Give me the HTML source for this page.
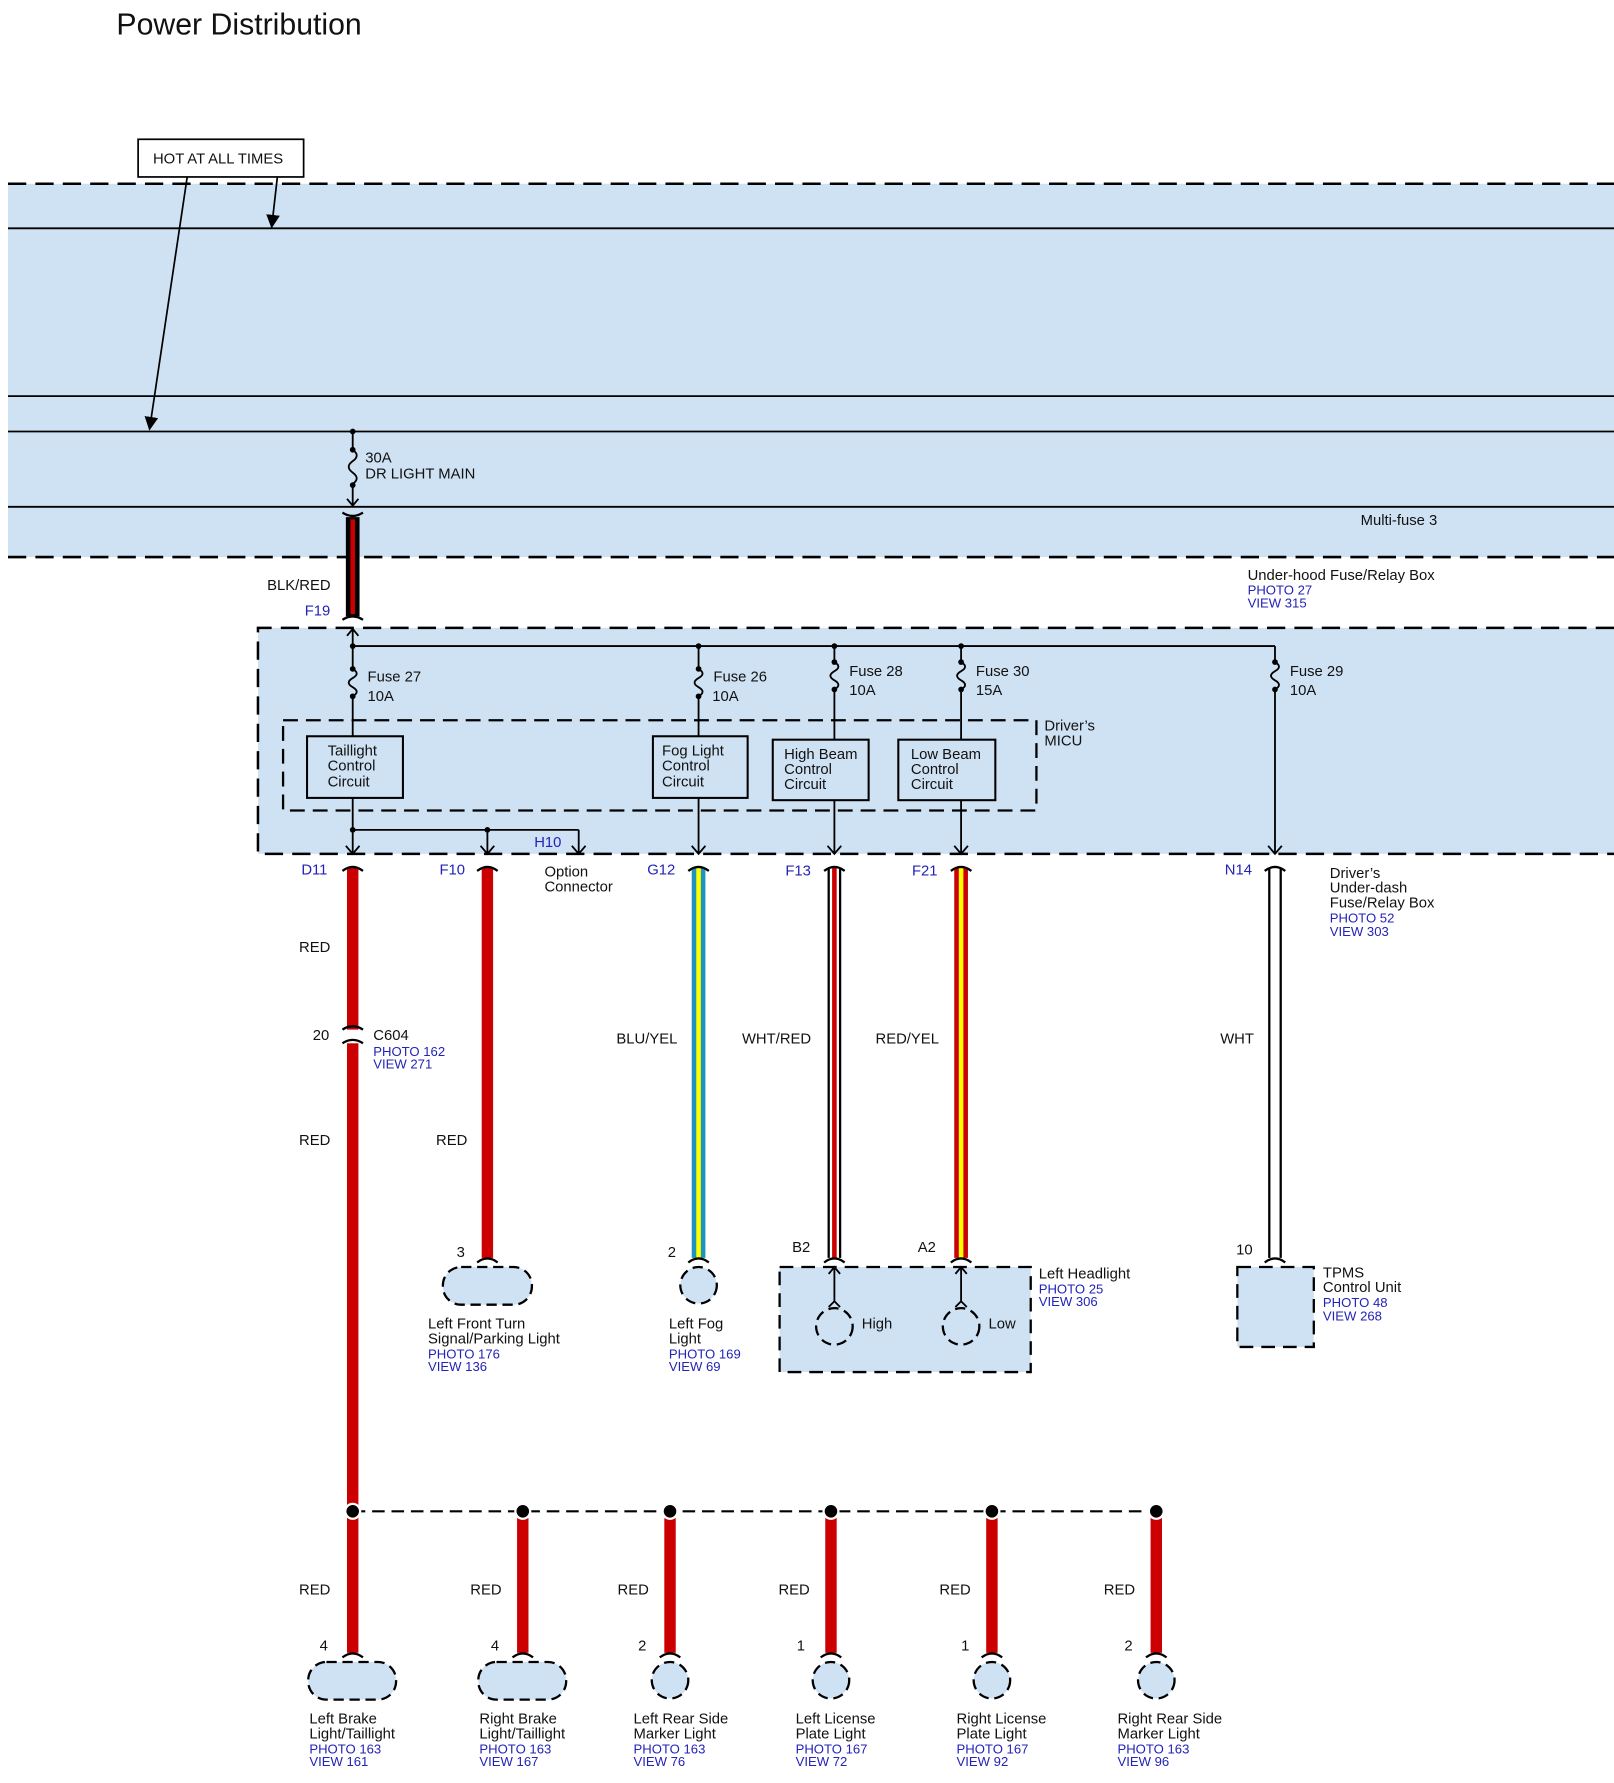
<!DOCTYPE html>
<html><head><meta charset="utf-8"><style>
html,body{margin:0;padding:0;background:#fff}
svg{display:block}
text{font-family:"Liberation Sans",Arial,sans-serif;font-size:13px;fill:#111}
.b{fill:#2323b8;font-size:11.5px}
.lb{fill:#2323b8;font-size:13px}
</style></head><body>
<svg width="1614" height="1783" viewBox="0 0 1414 1562" xmlns="http://www.w3.org/2000/svg">
<defs>
<marker id="ar" viewBox="0 0 10 10" refX="9" refY="5" markerWidth="8" markerHeight="8" orient="auto"><path d="M0,0 L10,5 L0,10 z" fill="#000"/></marker>
</defs>
<text x="102" y="30" style="font-size:26.5px">Power Distribution</text>

<rect x="7" y="161" width="1407" height="327" fill="#cfe2f4"/>
<g stroke="#000" stroke-width="2.2" fill="none">
<line x1="7" y1="161" x2="1414" y2="161" stroke-dasharray="16,8"/>
<line x1="7" y1="488" x2="1414" y2="488" stroke-dasharray="16,8"/>
</g>
<g stroke="#000" stroke-width="1.6">
<line x1="7" y1="200" x2="1414" y2="200"/>
<line x1="7" y1="347" x2="1414" y2="347"/>
<line x1="7" y1="378" x2="1414" y2="378"/>
<line x1="7" y1="444" x2="1414" y2="444"/>
</g>
<rect x="121" y="122" width="145" height="33" fill="#fff" stroke="#000" stroke-width="1.5"/>
<text x="134" y="143">HOT AT ALL TIMES</text>
<line x1="164" y1="155" x2="131" y2="376" stroke="#000" stroke-width="1.5" marker-end="url(#ar)"/>
<line x1="243" y1="155" x2="238" y2="199" stroke="#000" stroke-width="1.5" marker-end="url(#ar)"/>

<g stroke="#000" stroke-width="1.6" fill="none">
<line x1="309" y1="378" x2="309" y2="394"/>
<path d="M309 394 q7 5 0 10 q-7 5 0 10 q7 5 0 10"/>
<line x1="309" y1="424" x2="309" y2="443"/>
<path d="M304 437 L309 443 L314 437"/>
</g>
<circle cx="309" cy="378" r="2.5"/><circle cx="309" cy="394" r="2.5"/><circle cx="309" cy="425" r="2.5"/>
<text x="320" y="405">30A</text><text x="320" y="419">DR LIGHT MAIN</text>
<text x="1192" y="460">Multi-fuse 3</text>
<text x="1093" y="508">Under-hood Fuse/Relay Box</text>
<text class="b" x="1093" y="521">PHOTO 27</text><text class="b" x="1093" y="532">VIEW 315</text>

<rect x="303" y="453" width="12" height="87" fill="#000"/>
<rect x="307" y="455" width="4" height="83" fill="#c00"/>
<path d="M300 449 Q309 455 318 449" stroke="#000" stroke-width="2" fill="none"/>
<path d="M300 543 Q309 537 318 543" stroke="#000" stroke-width="2" fill="none"/>
<text x="234" y="517">BLK/RED</text>
<text class="lb" x="267" y="539">F19</text>

<rect x="226" y="550" width="1188" height="198" fill="#cfe2f4"/>
<path d="M1414 550 H226 V748 H1414" stroke="#000" stroke-width="2.2" fill="none" stroke-dasharray="16,8"/>
<path d="M248 631 H908 V710 H248 Z" stroke="#000" stroke-width="2" fill="none" stroke-dasharray="13,7"/>
<text x="915" y="640">Driver’s</text><text x="915" y="653">MICU</text>

<g stroke="#000" stroke-width="1.6" fill="none">
<line x1="309" y1="552" x2="309" y2="586"/><line x1="309" y1="610" x2="309" y2="645"/>
<path d="M304 557 L309 551 L314 557"/>
<line x1="309" y1="566" x2="1117" y2="566"/>
<path d="M309 586 q7 4 0 8 q-7 4 0 8 q7 4 0 8"/>
<line x1="612" y1="566" x2="612" y2="586"/><line x1="612" y1="610" x2="612" y2="645"/>
<path d="M612 586 q7 4 0 8 q-7 4 0 8 q7 4 0 8"/>
<line x1="731" y1="566" x2="731" y2="580"/><line x1="731" y1="604" x2="731" y2="648"/>
<path d="M731 580 q7 4 0 8 q-7 4 0 8 q7 4 0 8"/>
<line x1="842" y1="566" x2="842" y2="580"/><line x1="842" y1="604" x2="842" y2="648"/>
<path d="M842 580 q7 4 0 8 q-7 4 0 8 q7 4 0 8"/>
<line x1="1117" y1="566" x2="1117" y2="580"/><line x1="1117" y1="604" x2="1117" y2="747"/>
<path d="M1117 580 q7 4 0 8 q-7 4 0 8 q7 4 0 8"/>
</g>
<g fill="#000">
<circle cx="309" cy="566" r="2.5"/><circle cx="612" cy="566" r="2.5"/><circle cx="731" cy="566" r="2.5"/><circle cx="842" cy="566" r="2.5"/>
<circle cx="309" cy="586" r="2.5"/><circle cx="309" cy="610" r="2.5"/>
<circle cx="612" cy="586" r="2.5"/><circle cx="612" cy="610" r="2.5"/>
<circle cx="731" cy="580" r="2.5"/><circle cx="731" cy="604" r="2.5"/>
<circle cx="842" cy="580" r="2.5"/><circle cx="842" cy="604" r="2.5"/>
<circle cx="1117" cy="580" r="2.5"/><circle cx="1117" cy="604" r="2.5"/>
</g>
<text x="322" y="597">Fuse 27</text><text x="322" y="614">10A</text>
<text x="625" y="597">Fuse 26</text><text x="624" y="614">10A</text>
<text x="744" y="592">Fuse 28</text><text x="744" y="609">10A</text>
<text x="855" y="592">Fuse 30</text><text x="855" y="609">15A</text>
<text x="1130" y="592">Fuse 29</text><text x="1130" y="609">10A</text>

<g fill="#cfe2f4" stroke="#000" stroke-width="1.8">
<rect x="269" y="645" width="84" height="54"/>
<rect x="572" y="645" width="83" height="54"/>
<rect x="677" y="648" width="84" height="53"/>
<rect x="787" y="648" width="85" height="53"/>
</g>
<text x="287" y="662">Taillight</text><text x="287" y="675">Control</text><text x="287" y="689">Circuit</text>
<text x="580" y="662">Fog Light</text><text x="580" y="675">Control</text><text x="580" y="689">Circuit</text>
<text x="687" y="665">High Beam</text><text x="687" y="678">Control</text><text x="687" y="691">Circuit</text>
<text x="798" y="665">Low Beam</text><text x="798" y="678">Control</text><text x="798" y="691">Circuit</text>

<g stroke="#000" stroke-width="1.6" fill="none">
<line x1="309" y1="699" x2="309" y2="748"/>
<line x1="309" y1="727" x2="507" y2="727"/>
<line x1="427" y1="727" x2="427" y2="748"/>
<line x1="507" y1="727" x2="507" y2="747"/>
<line x1="612" y1="699" x2="612" y2="748"/>
<line x1="731" y1="701" x2="731" y2="748"/>
<line x1="842" y1="701" x2="842" y2="748"/>
<path d="M303 741 L309 748 L315 741 M421 741 L427 748 L433 741 M501 741 L507 748 L513 741 M606 741 L612 748 L618 741 M725 741 L731 748 L737 741 M836 741 L842 748 L848 741 M1111 741 L1117 748 L1123 741"/>
</g>
<circle cx="309" cy="727" r="2.5"/><circle cx="427" cy="727" r="2.5"/>
<text class="lb" x="468" y="742">H10</text>
<text x="477" y="768">Option</text><text x="477" y="781">Connector</text>

<text class="lb" x="264" y="766">D11</text>
<text class="lb" x="385" y="766">F10</text>
<text class="lb" x="567" y="766">G12</text>
<text class="lb" x="688" y="767">F13</text>
<text class="lb" x="799" y="767">F21</text>
<text class="lb" x="1073" y="766">N14</text>
<text x="1165" y="769">Driver’s</text><text x="1165" y="782">Under-dash</text><text x="1165" y="795">Fuse/Relay Box</text>
<text class="b" x="1165" y="808">PHOTO 52</text><text class="b" x="1165" y="820">VIEW 303</text>

<rect x="304" y="760" width="10" height="142" fill="#c00"/>
<rect x="304" y="914" width="10" height="534" fill="#c00"/>
<rect x="422" y="760" width="10" height="342" fill="#c00"/>
<rect x="606" y="760" width="12" height="342" fill="#1e93c0"/>
<rect x="610" y="760" width="4" height="342" fill="#ff0"/>
<rect x="725" y="760" width="12" height="342" fill="#000"/>
<rect x="727" y="760" width="8" height="342" fill="#fff"/>
<rect x="729" y="760" width="4" height="342" fill="#c00"/>
<rect x="836" y="760" width="12" height="342" fill="#c00"/>
<rect x="840" y="760" width="4" height="342" fill="#ff0"/>
<rect x="1111" y="760" width="12" height="342" fill="#000"/>
<rect x="1113" y="760" width="8" height="342" fill="#fff"/>

<g stroke="#000" stroke-width="2" fill="none">
<path d="M300 763 Q309 756 318 763 M418 763 Q427 756 436 763 M603 763 Q612 756 621 763 M722 763 Q731 756 740 763 M833 763 Q842 756 851 763 M1108 763 Q1117 756 1126 763"/>
<path d="M300 902 Q309 896 318 902 M300 914 Q309 908 318 914"/>
<path d="M418 1106 Q427 1099 436 1106 M603 1106 Q612 1099 621 1106 M722 1106 Q731 1099 740 1106 M833 1106 Q842 1099 851 1106 M1108 1106 Q1117 1099 1126 1106"/>
</g>

<text x="262" y="834">RED</text>
<text x="274" y="911">20</text>
<text x="327" y="911">C604</text>
<text class="b" x="327" y="925">PHOTO 162</text><text class="b" x="327" y="936">VIEW 271</text>
<text x="262" y="1003">RED</text>
<text x="382" y="1003">RED</text>
<text x="540" y="914">BLU/YEL</text>
<text x="650" y="914">WHT/RED</text>
<text x="767" y="914">RED/YEL</text>
<text x="1069" y="914">WHT</text>

<rect x="388" y="1110" width="78" height="33" rx="16" fill="#cfe2f4" stroke="#000" stroke-width="2" stroke-dasharray="9,5"/>
<text x="400" y="1101">3</text>
<text x="375" y="1164">Left Front Turn</text><text x="375" y="1177">Signal/Parking Light</text>
<text class="b" x="375" y="1190">PHOTO 176</text><text class="b" x="375" y="1201">VIEW 136</text>

<circle cx="612" cy="1126" r="16" fill="#cfe2f4" stroke="#000" stroke-width="2" stroke-dasharray="9,5"/>
<text x="585" y="1101">2</text>
<text x="586" y="1164">Left Fog</text><text x="586" y="1177">Light</text>
<text class="b" x="586" y="1190">PHOTO 169</text><text class="b" x="586" y="1201">VIEW 69</text>

<rect x="683" y="1110" width="220" height="92" fill="#cfe2f4" stroke="#000" stroke-width="2" stroke-dasharray="12,7"/>
<text x="694" y="1097">B2</text><text x="804" y="1097">A2</text>
<g stroke="#000" stroke-width="1.6" fill="none">
<line x1="731" y1="1111" x2="731" y2="1140"/><path d="M726 1116 L731 1110 L736 1116 M726 1145 L731 1140 L736 1145"/>
<line x1="842" y1="1111" x2="842" y2="1140"/><path d="M837 1116 L842 1110 L847 1116 M837 1145 L842 1140 L847 1145"/>
</g>
<circle cx="731" cy="1162" r="16" fill="none" stroke="#000" stroke-width="2" stroke-dasharray="9,5"/>
<circle cx="842" cy="1162" r="16" fill="none" stroke="#000" stroke-width="2" stroke-dasharray="9,5"/>
<text x="755" y="1164">High</text><text x="866" y="1164">Low</text>
<text x="910" y="1120">Left Headlight</text>
<text class="b" x="910" y="1133">PHOTO 25</text><text class="b" x="910" y="1144">VIEW 306</text>

<rect x="1084" y="1110" width="67" height="70" fill="#cfe2f4" stroke="#000" stroke-width="2" stroke-dasharray="12,7"/>
<text x="1083" y="1099">10</text>
<text x="1159" y="1119">TPMS</text><text x="1159" y="1132">Control Unit</text>
<text class="b" x="1159" y="1145">PHOTO 48</text><text class="b" x="1159" y="1157">VIEW 268</text>

<line x1="309" y1="1324" x2="1013" y2="1324" stroke="#000" stroke-width="1.8" stroke-dasharray="11,6"/>
<g fill="#c00">
<rect x="453" y="1330" width="10" height="118"/>
<rect x="582" y="1330" width="10" height="118"/>
<rect x="723" y="1330" width="10" height="118"/>
<rect x="864" y="1330" width="10" height="118"/>
<rect x="1008" y="1330" width="10" height="118"/>
</g>
<g fill="#000" stroke="#fff" stroke-width="2">
<circle cx="309" cy="1324" r="6.5"/><circle cx="458" cy="1324" r="6.5"/><circle cx="587" cy="1324" r="6.5"/><circle cx="728" cy="1324" r="6.5"/><circle cx="869" cy="1324" r="6.5"/><circle cx="1013" cy="1324" r="6.5"/>
</g>
<g stroke="#000" stroke-width="2" fill="none">
<path d="M300 1452 Q309 1445 318 1452 M449 1452 Q458 1445 467 1452 M578 1452 Q587 1445 596 1452 M719 1452 Q728 1445 737 1452 M860 1452 Q869 1445 878 1452 M1004 1452 Q1013 1445 1022 1452"/>
</g>
<g fill="#cfe2f4" stroke="#000" stroke-width="2" stroke-dasharray="9,5">
<rect x="270" y="1456" width="77" height="33" rx="16"/>
<rect x="419" y="1456" width="77" height="33" rx="16"/>
<circle cx="587" cy="1472" r="16"/>
<circle cx="728" cy="1472" r="16"/>
<circle cx="869" cy="1472" r="16"/>
<circle cx="1013" cy="1472" r="16"/>
</g>
<text x="262" y="1397">RED</text><text x="412" y="1397">RED</text><text x="541" y="1397">RED</text>
<text x="682" y="1397">RED</text><text x="823" y="1397">RED</text><text x="967" y="1397">RED</text>
<text x="280" y="1446">4</text><text x="430" y="1446">4</text><text x="559" y="1446">2</text>
<text x="698" y="1446">1</text><text x="842" y="1446">1</text><text x="985" y="1446">2</text>

<text x="271" y="1510">Left Brake</text><text x="271" y="1523">Light/Taillight</text>
<text class="b" x="271" y="1536">PHOTO 163</text><text class="b" x="271" y="1547">VIEW 161</text>
<text x="420" y="1510">Right Brake</text><text x="420" y="1523">Light/Taillight</text>
<text class="b" x="420" y="1536">PHOTO 163</text><text class="b" x="420" y="1547">VIEW 167</text>
<text x="555" y="1510">Left Rear Side</text><text x="555" y="1523">Marker Light</text>
<text class="b" x="555" y="1536">PHOTO 163</text><text class="b" x="555" y="1547">VIEW 76</text>
<text x="697" y="1510">Left License</text><text x="697" y="1523">Plate Light</text>
<text class="b" x="697" y="1536">PHOTO 167</text><text class="b" x="697" y="1547">VIEW 72</text>
<text x="838" y="1510">Right License</text><text x="838" y="1523">Plate Light</text>
<text class="b" x="838" y="1536">PHOTO 167</text><text class="b" x="838" y="1547">VIEW 92</text>
<text x="979" y="1510">Right Rear Side</text><text x="979" y="1523">Marker Light</text>
<text class="b" x="979" y="1536">PHOTO 163</text><text class="b" x="979" y="1547">VIEW 96</text>
</svg>
</body></html>
